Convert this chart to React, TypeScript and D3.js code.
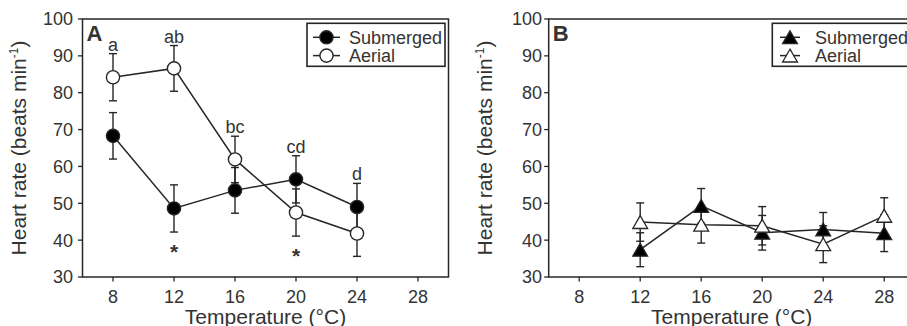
import React from "react";
import * as d3 from "d3";

const tempsA = [8, 12, 16, 20, 24];
const subA = [68.3, 48.6, 53.5, 56.5, 49.0];
const subAErr = [6.3, 6.4, 6.2, 6.4, 6.4];
const aerA = [84.2, 86.6, 61.9, 47.5, 41.8];
const aerAErr = [6.4, 6.2, 6.3, 6.4, 6.2];
const lettersA = ["a", "ab", "bc", "cd", "d"];
const starTemps = [12, 20];

const tempsB = [12, 16, 20, 24, 28];
const subB = [37.4, 49.3, 42.0, 42.9, 41.9];
const subBErr = [4.6, 4.7, 4.7, 4.6, 5.0];
const aerB = [44.9, 44.2, 43.9, 38.9, 46.6];
const aerBErr = [5.2, 5.0, 5.2, 5.0, 4.9];

const xTicks = [8, 12, 16, 20, 24, 28];
const yTicks = [30, 40, 50, 60, 70, 80, 90, 100];
const seriesNames = ["Submerged", "Aerial"];

const FONT = "'Liberation Sans', Arial, sans-serif";
const INK = "#262626";
const TXT = "#333";

const triPath = d3.symbol(d3.symbolTriangle, 95)() as string;
const triOffset = Math.sqrt(95 / (Math.sqrt(3) * 3)) / 2;

type Series = { vals: number[]; errs: number[]; filled: boolean };

function Panel({
  x0,
  label,
  temps,
  series,
  shape,
  legendX,
  legendLine,
  legendW,
  letters,
  stars,
  labelTickRight,
}: {
  x0: number;
  label: string;
  temps: number[];
  series: Series[];
  shape: "circle" | "triangle";
  legendX: number;
  legendLine: [number, number];
  legendW: number;
  letters?: string[];
  stars?: number[];
  labelTickRight: number;
}) {
  const x = d3.scaleLinear().domain([6, 30]).range([x0, x0 + 366]);
  const y = d3.scaleLinear().domain([30, 100]).range([277, 19]);
  const [xl, xr] = x.range();
  const [yb, yt] = y.range();
  const line = d3
    .line<number>()
    .x((_, i) => x(temps[i]))
    .y((v) => y(v));

  const marker = (cx: number, cy: number, filled: boolean, key: string) =>
    shape === "circle" ? (
      <circle key={key} cx={cx} cy={cy} r={6.6} fill={filled ? "#000" : "#fff"} stroke={INK} strokeWidth={1.4} />
    ) : (
      <path
        key={key}
        d={triPath}
        transform={`translate(${cx},${cy + triOffset})`}
        fill={filled ? "#000" : "#fff"}
        stroke={INK}
        strokeWidth={1.3}
      />
    );

  return (
    <g>
      <rect x={xl} y={yt} width={xr - xl} height={yb - yt} fill="none" stroke={INK} strokeWidth={1.5} />
      {yTicks.map((t) => (
        <g key={"y" + t}>
          <line x1={xl - 4.5} x2={xl} y1={y(t)} y2={y(t)} stroke={INK} strokeWidth={1.3} />
          <text x={labelTickRight} y={y(t) + 6.4} textAnchor="end" fontSize={18} fill={TXT} fontFamily={FONT}>
            {t}
          </text>
        </g>
      ))}
      {xTicks.map((t) => (
        <g key={"x" + t}>
          <line x1={x(t)} x2={x(t)} y1={yb} y2={yb + 4.5} stroke={INK} strokeWidth={1.3} />
          <text x={x(t)} y={302.5} textAnchor="middle" fontSize={18} fill={TXT} fontFamily={FONT}>
            {t}
          </text>
        </g>
      ))}
      <text x={(xl + xr) / 2} y={323.5} textAnchor="middle" fontSize={21} fill={TXT} fontFamily={FONT}>
        Temperature (°C)
      </text>
      <text
        transform={`translate(${xl - 57},${(yt + yb) / 2}) rotate(-90)`}
        textAnchor="middle"
        fontSize={21}
        fill={TXT}
        fontFamily={FONT}
      >
        Heart rate (beats min
        <tspan fontSize={12} dy={-8}>
          -1
        </tspan>
        <tspan dy={8}>)</tspan>
      </text>
      <text x={xl + 4} y={40.5} fontSize={22} fontWeight="bold" fill={TXT} fontFamily={FONT}>
        {label}
      </text>
      {series.map((s, si) =>
        s.vals.map((v, i) => {
          const cx = x(temps[i]);
          const top = y(v + s.errs[i]);
          const bot = y(v - s.errs[i]);
          return (
            <g key={`e${si}-${i}`} stroke={INK} strokeWidth={1.4}>
              <line x1={cx} x2={cx} y1={top} y2={bot} />
              <line x1={cx - 4} x2={cx + 4} y1={top} y2={top} />
              <line x1={cx - 4} x2={cx + 4} y1={bot} y2={bot} />
            </g>
          );
        })
      )}
      {series.map((s, si) => (
        <path key={"l" + si} d={line(s.vals) as string} fill="none" stroke={INK} strokeWidth={1.5} />
      ))}
      {series.map((s, si) => s.vals.map((v, i) => marker(x(temps[i]), y(v), s.filled, `m${si}-${i}`)))}
      {letters &&
        letters.map((l, i) => {
          const top = Math.max(...series.map((s) => s.vals[i] + s.errs[i]));
          return (
            <text key={"t" + i} x={x(temps[i])} y={y(top) - 3} textAnchor="middle" fontSize={18} fill={TXT} fontFamily={FONT}>
              {l}
            </text>
          );
        })}
      {stars &&
        stars.map((t) => {
          const i = temps.indexOf(t);
          const bot = Math.min(...series.map((s) => s.vals[i] - s.errs[i]));
          return (
            <text
              key={"s" + t}
              x={x(t)}
              y={y(bot) + 27}
              textAnchor="middle"
              fontSize={21}
              fontWeight="bold"
              fill={TXT}
              fontFamily={FONT}
            >
              *
            </text>
          );
        })}
      <rect x={legendX} y={23.3} width={legendW} height={43} fill="#fff" stroke={INK} strokeWidth={1.6} />
      {seriesNames.map((n, i) => {
        const cy = [37.3, 55.6][i];
        const mx = (legendLine[0] + legendLine[1]) / 2;
        return (
          <g key={"lg" + i}>
            <line x1={legendLine[0]} x2={legendLine[1]} y1={cy} y2={cy} stroke={INK} strokeWidth={1.5} />
            {marker(mx, cy, series[i].filled, "lgm" + i)}
            <text x={legendLine[1] + (shape === "circle" ? 9 : 15)} y={cy + 6.8} fontSize={18} fill={TXT} fontFamily={FONT}>
              {n}
            </text>
          </g>
        );
      })}
    </g>
  );
}

export default function App() {
  return (
    <svg
      width={907}
      height={326}
      viewBox="0 0 907 326"
      style={{ position: "absolute", left: 0, top: 0, background: "#fff" }}
    >
      <rect width={907} height={326} fill="#fff" />
      <Panel
        x0={82.5}
        label="A"
        temps={tempsA}
        series={[
          { vals: subA, errs: subAErr, filled: true },
          { vals: aerA, errs: aerAErr, filled: false },
        ]}
        shape="circle"
        legendX={307}
        legendLine={[313, 340]}
        legendW={138}
        letters={lettersA}
        stars={starTemps}
        labelTickRight={73}
      />
      <Panel
        x0={548.7}
        label="B"
        temps={tempsB}
        series={[
          { vals: subB, errs: subBErr, filled: true },
          { vals: aerB, errs: aerBErr, filled: false },
        ]}
        shape="triangle"
        legendX={772.3}
        legendLine={[780, 800]}
        legendW={138}
        labelTickRight={542}
      />
    </svg>
  );
}
